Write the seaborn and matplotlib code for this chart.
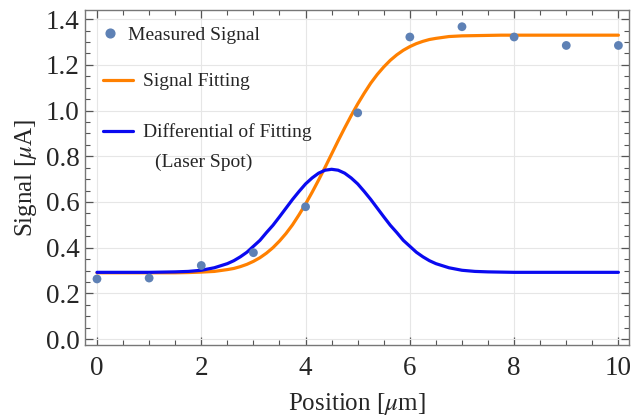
import numpy as np
import pandas as pd
import matplotlib
matplotlib.use("Agg")
import matplotlib.pyplot as plt
import seaborn as sns
from matplotlib.ticker import MultipleLocator, FormatStrFormatter
from matplotlib.lines import Line2D

# measured points
pos = [0, 1, 2, 3, 4, 5, 6, 7, 8, 9, 10]
signal = [0.263, 0.267, 0.322, 0.378, 0.579, 0.990, 1.322, 1.367, 1.322, 1.285, 1.285]

# curves (finer steps through the transition)
curve_x = list(np.arange(0, 2.5, 0.25)) + list(np.arange(2.5, 6.5, 0.125)) + list(np.arange(6.5, 10.01, 0.25))
fit_y = [0.290, 0.290, 0.290, 0.290, 0.290, 0.290, 0.290, 0.291, 0.293, 0.296,
         0.304, 0.309, 0.317, 0.327, 0.340, 0.356, 0.376, 0.400, 0.429, 0.462,
         0.500, 0.544, 0.591, 0.642, 0.696, 0.752, 0.810, 0.868, 0.924, 0.978,
         1.029, 1.076, 1.120, 1.158, 1.191, 1.220, 1.244, 1.264, 1.280, 1.293,
         1.303, 1.311, 1.316, 1.324, 1.327, 1.328, 1.329, 1.330, 1.330, 1.330,
         1.330, 1.330, 1.330, 1.330, 1.330, 1.330, 1.330]
diff_y = [0.292, 0.292, 0.292, 0.292, 0.292, 0.293, 0.294, 0.296, 0.301, 0.312,
          0.330, 0.343, 0.360, 0.380, 0.406, 0.432, 0.466, 0.498, 0.535, 0.573,
          0.611, 0.646, 0.679, 0.705, 0.726, 0.739, 0.743, 0.739, 0.726, 0.705,
          0.679, 0.646, 0.611, 0.573, 0.535, 0.498, 0.466, 0.432, 0.406, 0.380,
          0.360, 0.343, 0.330, 0.312, 0.301, 0.296, 0.294, 0.293, 0.292, 0.292,
          0.292, 0.292, 0.292, 0.292, 0.292, 0.292, 0.292]

c_pts, c_fit, c_diff = "#5E81B5", "#FF8000", "#0A0AF0"

sns.set_style("ticks")
plt.rcParams['font.family'] = ['Liberation Serif', 'DejaVu Serif']
plt.rcParams['mathtext.fontset'] = 'stix'

fig = plt.figure(figsize=(6.32, 4.20), dpi=100)
ax = fig.add_axes([0.1345, 0.1786, 0.8605, 0.7975])

pts = pd.DataFrame({"x": pos, "y": signal})
sns.scatterplot(data=pts, x="x", y="y", ax=ax, color=c_pts, s=40,
                edgecolor="none", zorder=4, legend=False)
sns.lineplot(x=curve_x, y=fit_y, ax=ax, color=c_fit, lw=2.3, zorder=3, legend=False)
sns.lineplot(x=curve_x, y=diff_y, ax=ax, color=c_diff, lw=2.3, zorder=3, legend=False)

ax.set_xlim(-0.23, 10.2)
ax.set_ylim(-0.026, 1.44)
ax.xaxis.set_major_locator(MultipleLocator(2))
ax.xaxis.set_minor_locator(MultipleLocator(0.5))
ax.yaxis.set_major_locator(MultipleLocator(0.2))
ax.yaxis.set_minor_locator(MultipleLocator(0.05))
ax.yaxis.set_major_formatter(FormatStrFormatter('%.1f'))
ax.tick_params(which='both', direction='in', top=True, right=True,
               color='#555555', labelsize=19.5)
ax.tick_params(which='major', length=6, width=0.9)
ax.tick_params(which='minor', length=3.5, width=0.8)
ax.tick_params(axis='x', pad=8)
ax.tick_params(axis='y', pad=4)
ax.grid(True, which='major', color='#e6e6e6', lw=0.8)
for sp in ax.spines.values():
    sp.set_color('#777777')
    sp.set_linewidth(1.0)

ax.set_xlabel("Position [$\\mu$m]", fontsize=18, labelpad=7)
ax.set_ylabel("Signal [$\\mu$A]", fontsize=18, labelpad=5)

# legend: marker entry, then the two curve entries
h_pts = Line2D([], [], ls='none', marker='o', ms=6.3, color=c_pts)
leg1 = ax.legend([h_pts], ["Measured Signal"], loc='center left', frameon=False,
                 fontsize=14, handlelength=1.0, handletextpad=0.43,
                 borderpad=0, borderaxespad=0, bbox_to_anchor=(0.028, 0.9254))
ax.add_artist(leg1)
h_fit = Line2D([], [], color=c_fit, lw=2.3)
h_diff = Line2D([], [], color=c_diff, lw=2.3)
ax.legend([h_fit, h_diff], ["Signal Fitting", "Differential of Fitting"],
          loc='center left', frameon=False, fontsize=14, handlelength=1.55,
          handletextpad=0.52, labelspacing=1.7, borderpad=0, borderaxespad=0,
          bbox_to_anchor=(0.0331, 0.7104))
ax.text(0.1287, 0.546, "(Laser Spot)", transform=ax.transAxes, fontsize=14,
        va='center', ha='left')

fig.savefig("out.png", dpi=100)
